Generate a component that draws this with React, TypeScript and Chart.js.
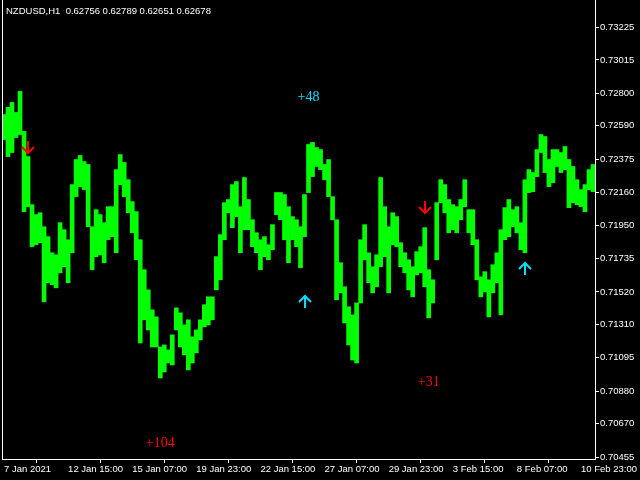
import React, { useEffect, useRef } from 'react';
import { Chart, registerables } from 'chart.js';

Chart.register(...registerables);

const TITLE = 'NZDUSD,H1  0.62756 0.62789 0.62651 0.62678';

const TIME_LABELS = [
  '7 Jan 2021', '12 Jan 15:00', '15 Jan 07:00', '19 Jan 23:00', '22 Jan 15:00',
  '27 Jan 07:00', '29 Jan 23:00', '3 Feb 15:00', '8 Feb 07:00', '10 Feb 23:00',
];
const BARS_PER_LABEL = 16;

const HIGHS = [
  0.72663, 0.72709, 0.72741, 0.72676, 0.72812, 0.72554, 0.72392, 0.72082, 0.72018, 0.72030,
  0.71940, 0.71876, 0.71772, 0.71759, 0.71966, 0.71921, 0.71856, 0.72211, 0.72373, 0.72399,
  0.72360, 0.72341, 0.71940, 0.72050, 0.72018, 0.71966, 0.72069, 0.72069, 0.72308, 0.72405,
  0.72354, 0.72243, 0.72102, 0.72037, 0.71856, 0.71663, 0.71533, 0.71404, 0.71359, 0.71165,
  0.71178, 0.71146, 0.71243, 0.71417, 0.71385, 0.71307, 0.71340, 0.71230, 0.71275, 0.71340,
  0.71437, 0.71488, 0.71488, 0.71747, 0.71889, 0.72095, 0.72115, 0.72211, 0.72231, 0.72069,
  0.72257, 0.72115, 0.71985, 0.71901, 0.71856, 0.71876, 0.71824, 0.71953, 0.72160, 0.72160,
  0.72147, 0.72069, 0.72005, 0.71985, 0.71940, 0.72147, 0.72470, 0.72483, 0.72450, 0.72437,
  0.72341, 0.72373, 0.72134, 0.71985, 0.71708, 0.71553, 0.71424, 0.71372, 0.71449, 0.71856,
  0.71953, 0.71772, 0.71682, 0.71759, 0.72257, 0.72069, 0.71940, 0.72030, 0.72005, 0.71837,
  0.71772, 0.71727, 0.71682, 0.71779, 0.71811, 0.71934, 0.71663, 0.71598, 0.72095, 0.72243,
  0.72211, 0.72115, 0.72082, 0.72069, 0.72115, 0.72243, 0.72050, 0.72050, 0.71856, 0.71617,
  0.71650, 0.71598, 0.71695, 0.71772, 0.71921, 0.72063, 0.72115, 0.72050, 0.72069, 0.71966,
  0.72243, 0.72308, 0.72289, 0.72437, 0.72534, 0.72521, 0.72373, 0.72437, 0.72437, 0.72418,
  0.72457, 0.72373, 0.72328, 0.72243, 0.72179, 0.72211, 0.72308, 0.72341,
];

const LOWS = [
  0.72502, 0.72392, 0.72418, 0.72515, 0.72534, 0.72037, 0.72069, 0.71811, 0.71824, 0.71837,
  0.71456, 0.71579, 0.71566, 0.71546, 0.71643, 0.71682, 0.71579, 0.71772, 0.72134, 0.72198,
  0.72179, 0.71940, 0.71663, 0.71747, 0.71759, 0.71708, 0.71856, 0.71876, 0.71772, 0.72211,
  0.72134, 0.72030, 0.71901, 0.71727, 0.71191, 0.71340, 0.71275, 0.71165, 0.71165, 0.70965,
  0.71004, 0.71062, 0.71049, 0.71275, 0.71165, 0.71114, 0.71017, 0.71062, 0.71127, 0.71210,
  0.71295, 0.71307, 0.71340, 0.71533, 0.71598, 0.71856, 0.72030, 0.71934, 0.72005, 0.71772,
  0.71921, 0.71921, 0.71811, 0.71772, 0.71663, 0.71747, 0.71727, 0.71792, 0.72018, 0.71985,
  0.71856, 0.71708, 0.71856, 0.71811, 0.71676, 0.71876, 0.72160, 0.72263, 0.72328, 0.72308,
  0.72243, 0.72134, 0.71985, 0.71469, 0.71514, 0.71320, 0.71178, 0.71081, 0.71062, 0.71449,
  0.71727, 0.71579, 0.71514, 0.71553, 0.71682, 0.71747, 0.71514, 0.71824, 0.71811, 0.71682,
  0.71643, 0.71533, 0.71488, 0.71630, 0.71643, 0.71553, 0.71353, 0.71449, 0.71727, 0.72095,
  0.72030, 0.71901, 0.71921, 0.71901, 0.71985, 0.72069, 0.71901, 0.71824, 0.71598, 0.71488,
  0.71520, 0.71359, 0.71514, 0.71579, 0.71372, 0.71856, 0.71876, 0.71940, 0.71901, 0.71792,
  0.71772, 0.72160, 0.72166, 0.72263, 0.72418, 0.72289, 0.72198, 0.72224, 0.72328, 0.72289,
  0.72308, 0.72063, 0.72095, 0.72082, 0.72069, 0.72037, 0.72179, 0.72166,
];

const Y_TICKS = [
  0.70455, 0.70670, 0.70880, 0.71095, 0.71310, 0.71520, 0.71735,
  0.71950, 0.72160, 0.72375, 0.72590, 0.72800, 0.73015, 0.73225,
];
const Y_MIN = 0.70443;
const Y_MAX = 0.73401;

const ARROW_BARS = [6, 75, 105, 130];
const ARROW_PRICES = [0.72456, 0.71456, 0.72066, 0.71669];
const ARROW_DIRS = ['down', 'up', 'down', 'up'];

const PROFIT_BARS = [76, 39, 106];
const PROFIT_PRICES = [0.72775, 0.70546, 0.70934];
const PROFIT_TEXTS = ['+48', '+104', '+31'];
const PROFIT_DIRS = ['up', 'down', 'down'];

const GREEN = '#00FF00';
const RED = '#FF0000';
const CYAN = '#00E0FF';
const AXIS_FONT = { family: 'Liberation Sans, Arial, sans-serif', size: 9.5 };

const overlayPlugin = {
  id: 'mtOverlay',
  afterDatasetsDraw(chart: any) {
    const { ctx, chartArea, scales } = chart;
    const xs = scales.x;
    const ys = scales.y;
    ctx.save();
    // left frame line
    ctx.strokeStyle = '#FFFFFF';
    ctx.lineWidth = 1;
    ctx.beginPath();
    ctx.moveTo(chartArea.left + 0.5, chartArea.top);
    ctx.lineTo(chartArea.left + 0.5, chartArea.bottom);
    ctx.stroke();

    // arrows
    ctx.lineWidth = 2;
    ARROW_BARS.forEach((bar, i) => {
      const cx = Math.round(xs.getPixelForValue(bar));
      const cy = Math.round(ys.getPixelForValue(ARROW_PRICES[i]));
      const down = ARROW_DIRS[i] === 'down';
      ctx.strokeStyle = down ? RED : CYAN;
      ctx.beginPath();
      ctx.moveTo(cx, cy - 6);
      ctx.lineTo(cx, cy + 6);
      if (down) {
        ctx.moveTo(cx - 6, cy);
        ctx.lineTo(cx, cy + 6);
        ctx.lineTo(cx + 6, cy);
      } else {
        ctx.moveTo(cx - 6, cy);
        ctx.lineTo(cx, cy - 6);
        ctx.lineTo(cx + 6, cy);
      }
      ctx.stroke();
    });

    // profit labels
    ctx.font = '14px "Liberation Serif", "Times New Roman", serif';
    ctx.textAlign = 'center';
    ctx.textBaseline = 'middle';
    PROFIT_BARS.forEach((bar, i) => {
      ctx.fillStyle = PROFIT_DIRS[i] === 'up' ? CYAN : RED;
      ctx.fillText(PROFIT_TEXTS[i], xs.getPixelForValue(bar), ys.getPixelForValue(PROFIT_PRICES[i]));
    });

    // title
    ctx.font = '9.5px "Liberation Sans", Arial, sans-serif';
    ctx.fillStyle = '#FFFFFF';
    ctx.textAlign = 'left';
    ctx.textBaseline = 'middle';
    ctx.fillText(TITLE, 6, 11);
    ctx.restore();
  },
};

export default function App() {
  const canvasRef = useRef<HTMLCanvasElement | null>(null);

  useEffect(() => {
    document.body.style.margin = '0';
    document.body.style.background = '#000000';
    const canvas = canvasRef.current;
    if (!canvas) return;
    const labels = HIGHS.map((_, i) =>
      i % BARS_PER_LABEL === 0 && TIME_LABELS[i / BARS_PER_LABEL] !== undefined
        ? TIME_LABELS[i / BARS_PER_LABEL]
        : ''
    );
    const chart = new Chart(canvas, {
      type: 'bar',
      data: {
        labels,
        datasets: [
          {
            data: HIGHS.map((h, i) => [LOWS[i], h]) as any,
            backgroundColor: GREEN,
            borderWidth: 0,
            barPercentage: 1,
            categoryPercentage: 1,
          },
        ],
      },
      options: {
        animation: false,
        responsive: false,
        maintainAspectRatio: false,
        layout: { padding: { left: 2, top: 0, right: 0, bottom: 0 } },
        plugins: {
          legend: { display: false },
          tooltip: { enabled: false },
          title: { display: false },
        },
        scales: {
          x: {
            type: 'category',
            grid: {
              drawOnChartArea: false,
              drawTicks: true,
              tickLength: 4,
              tickColor: '#FFFFFF',
              tickWidth: 1,
            },
            border: { display: true, color: '#FFFFFF', width: 1 },
            ticks: {
              color: '#FFFFFF',
              font: AXIS_FONT,
              align: 'start',
              padding: 1,
              maxRotation: 0,
              minRotation: 0,
              autoSkip: false,
            },
            afterBuildTicks: (scale: any) => {
              scale.ticks = scale.ticks.filter((t: any) => t.value % BARS_PER_LABEL === 0);
            },
            afterFit: (scale: any) => {
              scale.height = 21;
              scale.paddingLeft = 0;
              scale.paddingRight = 0;
            },
          },
          y: {
            type: 'linear',
            position: 'right',
            min: Y_MIN,
            max: Y_MAX,
            grid: {
              drawOnChartArea: false,
              drawTicks: true,
              tickLength: 4,
              tickColor: '#FFFFFF',
              tickWidth: 1,
            },
            border: { display: true, color: '#FFFFFF', width: 1 },
            ticks: {
              color: '#FFFFFF',
              font: AXIS_FONT,
              padding: 1,
              callback: (v: any) => Number(v).toFixed(5),
            },
            afterBuildTicks: (scale: any) => {
              scale.ticks = Y_TICKS.map((v) => ({ value: v }));
            },
            afterFit: (scale: any) => {
              scale.width = 45;
              scale.paddingTop = 0;
              scale.paddingBottom = 0;
            },
          },
        },
      },
      plugins: [overlayPlugin],
    });
    return () => chart.destroy();
  }, []);

  return (
    <div style={{ width: 640, height: 480, background: '#000000' }}>
      <canvas ref={canvasRef} width={640} height={480} style={{ display: 'block' }} />
    </div>
  );
}
